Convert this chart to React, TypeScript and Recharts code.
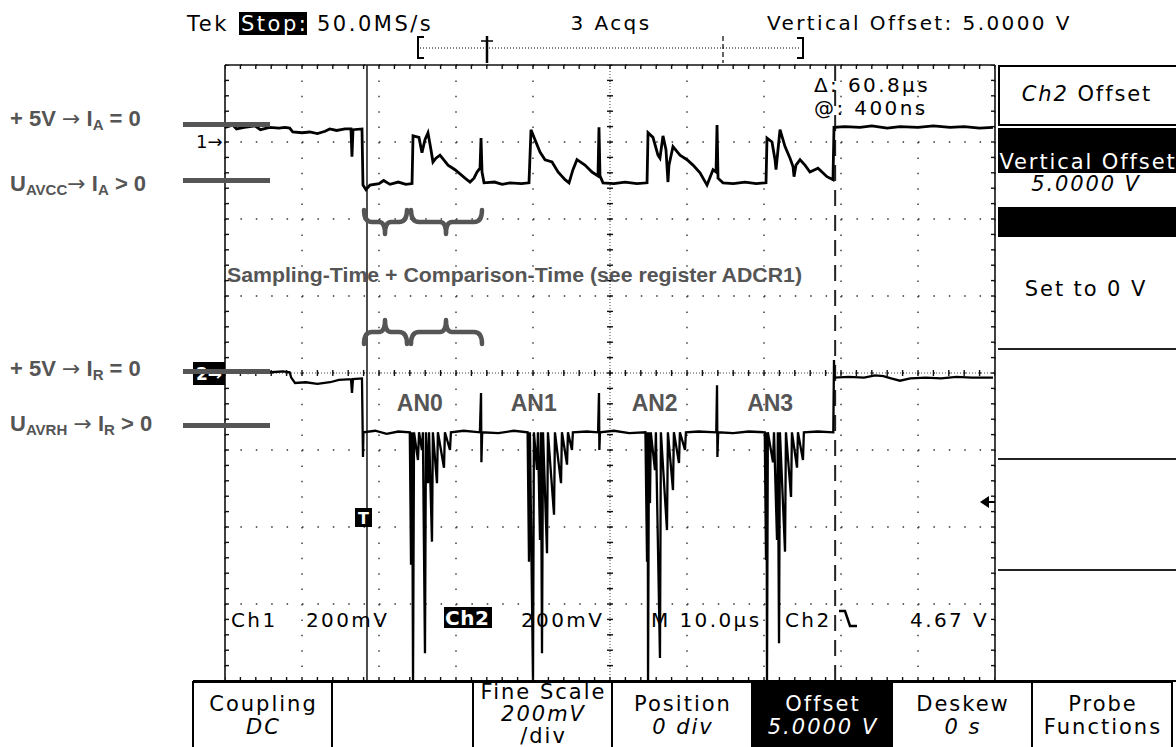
import React from "react";
import { ComposedChart, Line, Scatter, XAxis, YAxis, CartesianGrid, ReferenceLine } from "recharts";

// time in µs from the left screen edge (10 µs/div), level in screen divisions (0 = centre line)
const ch1Trace: [number, number][] = [
  [0, 3.19], [1.0, 3.22], [1.5, 3.17], [2.5, 3.19], [3.9, 3.21], [4.6, 3.16], [5.8, 3.19], [7.0, 3.18],
  [7.8, 3.19], [8.4, 3.18], [8.8, 3.13], [10.0, 3.12], [11.0, 3.13], [12.0, 3.11], [13.0, 3.14], [13.6, 3.17],
  [14.5, 3.15], [15.6, 3.17], [16.36, 3.17], [16.49, 2.81], [16.62, 3.16], [17.79, 3.17], [17.92, 2.44],
  [18.31, 2.38], [18.83, 2.44], [20.0, 2.46], [20.6, 2.5], [21.43, 2.45], [22.5, 2.48], [23.5, 2.45], [24.29, 2.46],
  [24.42, 3.08], [25.19, 3.06], [25.58, 2.86], [25.97, 3.03], [26.36, 3.12], [26.75, 2.9], [27.01, 2.74],
  [27.4, 2.79], [27.92, 2.83], [28.96, 2.7], [29.87, 2.64], [31.17, 2.53], [31.82, 2.48], [32.34, 2.53],
  [32.73, 2.61], [33.12, 2.66], [33.25, 3.05], [33.38, 2.61], [33.64, 2.47], [35.0, 2.48], [36.0, 2.45],
  [37.01, 2.47], [38.5, 2.46], [39.48, 2.47], [39.74, 3.16], [40.26, 3.03], [40.91, 2.87], [41.56, 2.77],
  [42.47, 2.74], [43.25, 2.61], [44.16, 2.51], [44.68, 2.47], [45.19, 2.64], [45.71, 2.77], [46.75, 2.7],
  [47.66, 2.61], [48.44, 2.56], [48.57, 3.19], [48.7, 2.56], [49.09, 2.47], [50.5, 2.46], [51.95, 2.48],
  [53.5, 2.46], [54.81, 2.47], [54.94, 3.12], [55.58, 3.06], [56.23, 2.83], [56.49, 2.79], [56.88, 3.08],
  [57.27, 2.9], [57.53, 2.48], [57.66, 2.7], [58.18, 2.94], [59.09, 2.83], [60.0, 2.77], [60.78, 2.7],
  [61.69, 2.6], [62.6, 2.44], [63.38, 2.64], [63.77, 2.61], [63.9, 3.22], [64.03, 2.53], [64.68, 2.47],
  [66.0, 2.46], [67.53, 2.48], [69.0, 2.46], [70.26, 2.47], [70.39, 3.05], [71.04, 3.0], [71.43, 2.77],
  [71.56, 2.64], [71.82, 2.9], [72.08, 3.16], [72.73, 2.94], [73.38, 2.79], [73.77, 2.68], [73.9, 2.55],
  [74.16, 2.7], [74.68, 2.77], [75.32, 2.7], [75.97, 2.61], [77.01, 2.66], [78.18, 2.55], [78.96, 2.51],
  [79.09, 3.19], [80.5, 3.2], [82.47, 3.19], [84.0, 3.21], [86.0, 3.18], [87.66, 3.2], [90.0, 3.19],
  [92.0, 3.21], [94.16, 3.19], [96.0, 3.2], [98.0, 3.18], [99.74, 3.19],
];

const ch2Trace: [number, number][] = [
  [0, 0.01], [1.5, 0.03], [3, 0.0], [4.5, 0.02], [6, 0.01], [7.5, 0.02], [8.4, 0.01], [8.6, -0.06],
  [9.09, -0.13], [10.5, -0.12], [12, -0.14], [13.64, -0.12], [14.8, -0.09], [16.36, -0.08], [16.49, -0.26],
  [16.62, -0.08], [17.79, -0.07], [17.92, -1.09], [17.98, -0.77], [19.5, -0.75], [21, -0.79], [22.5, -0.76],
  [24.0, -0.77],
  // AN0
  [24.16, -2.49], [24.3, -0.77], [24.42, -4.0], [24.55, -0.77], [25.06, -1.13], [25.2, -0.77], [25.58, -1.0],
  [25.7, -0.77], [25.97, -3.64], [26.1, -0.77], [26.36, -1.43], [26.5, -0.77], [26.88, -2.19], [27.0, -0.77],
  [27.53, -1.43], [27.65, -0.77], [28.44, -1.23], [28.56, -0.77], [29.22, -1.0], [29.34, -0.77], [31, -0.75],
  [33.1, -0.77], [33.25, -0.26], [33.3, -1.16], [33.4, -0.77], [35.5, -0.78], [37.5, -0.75], [39.3, -0.77],
  // AN1
  [39.48, -2.45], [39.6, -0.77], [40.0, -4.0], [40.12, -0.77], [40.52, -1.26], [40.64, -0.77], [40.91, -2.17],
  [41.03, -0.77], [41.17, -3.64], [41.3, -0.77], [41.82, -2.34], [41.94, -0.77], [42.73, -1.84], [42.85, -0.77],
  [43.64, -1.43], [43.76, -0.77], [44.42, -1.19], [44.54, -0.77], [45.06, -1.0], [45.18, -0.77], [47, -0.76],
  [48.45, -0.77], [48.57, -0.26], [48.62, -1.0], [48.7, -0.77], [50.5, -0.75], [52.5, -0.78], [54.6, -0.77],
  // AN2
  [54.81, -2.45], [54.9, -0.77], [54.94, -4.0], [55.06, -0.77], [55.19, -1.69], [55.3, -0.77], [55.84, -1.26],
  [55.96, -0.77], [56.49, -3.7], [56.61, -0.77], [57.4, -2.04], [57.52, -0.77], [58.18, -1.52], [58.3, -0.77],
  [58.96, -1.17], [59.08, -0.77], [59.74, -1.0], [59.86, -0.77], [61.5, -0.76], [63.8, -0.77], [63.9, -0.16],
  [63.95, -1.09], [64.05, -0.77], [66, -0.78], [68, -0.76], [70.1, -0.77],
  // AN3
  [70.26, -2.43], [70.33, -0.77], [70.39, -4.0], [70.5, -0.77], [71.17, -1.16], [71.3, -0.77], [71.69, -2.17],
  [71.8, -0.77], [71.95, -3.51], [72.07, -0.77], [72.73, -2.32], [72.85, -0.77], [73.51, -1.61], [73.63, -0.77],
  [74.29, -1.23], [74.41, -0.77], [75.06, -1.13], [75.18, -0.77], [77, -0.76], [79.0, -0.77],
  [79.09, 0.17], [79.15, -0.06], [81, -0.05], [83, -0.06], [84.42, -0.03], [85.5, -0.04], [86.5, -0.07],
  [87.66, -0.1], [89, -0.07], [91, -0.06], [93, -0.07], [95, -0.05], [97, -0.06], [99.74, -0.06],
];

const xDivTicks = [0, 10, 20, 30, 40, 50, 60, 70, 80, 90, 100];
const yDivTicks = [-4, -3, -2, -1, 0, 1, 2, 3, 4];
const cursorTimes = [18.44, 79.24];
const convLabels = ["AN0", "AN1", "AN2", "AN3"];
const convCentres = [25.3, 40.1, 55.8, 70.8];

const bottomMenu = [
  ["Coupling", "DC"],
  ["", ""],
  ["Fine Scale", "200mV", "/div"],
  ["Position", "0 div"],
  ["Offset", "5.0000 V"],
  ["Deskew", "0 s"],
  ["Probe", "Functions"],
];

const W = 1176;
const H = 747;
const PLOT = { left: 225, top: 65, right: 995, bottom: 681 };
const TEK = "'DejaVu Sans', sans-serif";
const NOTE = "'Liberation Sans', Arial, sans-serif";
const GREY = "#555";

const ch1Data = ch1Trace.map(([t, v]) => ({ t, v }));
const ch2Data = ch2Trace.map(([t, v]) => ({ t, v }));

// minor graticule marks, 5 per division
const minorT = Array.from({ length: 51 }, (_, i) => i * 2);
const minorV = Array.from({ length: 41 }, (_, i) => -4 + i * 0.2);
const gridTicks = [
  ...minorT.map((t) => ({ t, v: 4, kind: "top" })),
  ...minorT.map((t) => ({ t, v: -4, kind: "bottom" })),
  ...minorT.map((t) => ({ t, v: 0, kind: "ch" })),
  ...minorV.map((v) => ({ t: 0, v, kind: "left" })),
  ...minorV.map((v) => ({ t: 100, v, kind: "right" })),
  ...minorV.map((v) => ({ t: 50, v, kind: "cv" })),
];

function TickMark(props: any) {
  const { cx, cy, payload } = props;
  if (cx == null || cy == null) return <g />;
  const k = payload.kind;
  let d = "";
  if (k === "top") d = `M${cx},${cy}V${cy + 4}`;
  else if (k === "bottom") d = `M${cx},${cy}V${cy - 4}`;
  else if (k === "left") d = `M${cx},${cy}H${cx + 4}`;
  else if (k === "right") d = `M${cx},${cy}H${cx - 4}`;
  else if (k === "ch") d = `M${cx},${cy - 3}V${cy + 3}`;
  else d = `M${cx - 3},${cy}H${cx + 3}`;
  return <path d={d} stroke="#111" strokeWidth={1.4} fill="none" />;
}

function Brace({ x1, x2, tip, y, dir }: { x1: number; x2: number; tip: number; y: number; dir: number }) {
  // dir = 1 tip points down, -1 tip points up
  const d = `M${x1},${y - 12 * dir} Q${x1},${y} ${x1 + 8},${y} H${tip - 6} Q${tip},${y} ${tip},${y + 12 * dir} Q${tip},${y} ${tip + 6},${y} H${x2 - 8} Q${x2},${y} ${x2},${y - 12 * dir}`;
  return <path d={d} stroke={GREY} strokeWidth={4.5} fill="none" strokeLinecap="round" strokeLinejoin="round" />;
}

const ARROW = { fontFamily: "'DejaVu Sans', sans-serif", fontWeight: "normal" as const };

export default function App() {
  const boxEdges = [193, 332, 473, 612, 752, 892, 1032, 1172];
  return (
    <div style={{ position: "absolute", left: 0, top: 0, width: W, height: H, background: "#fff", overflow: "hidden" }}>
      <div style={{ position: "absolute", left: 0, top: 0 }}>
        <ComposedChart
          width={W}
          height={H}
          margin={{ top: PLOT.top, right: W - PLOT.right, bottom: H - PLOT.bottom, left: PLOT.left }}
        >
          <XAxis type="number" dataKey="t" domain={[0, 100]} ticks={xDivTicks} hide allowDataOverflow />
          <YAxis type="number" dataKey="v" domain={[-4, 4]} ticks={yDivTicks} hide allowDataOverflow />
          <CartesianGrid
            stroke="#333"
            strokeWidth={1.4}
            strokeDasharray="1.5 13.9"
            horizontalValues={yDivTicks}
            verticalValues={xDivTicks}
          />
          <ReferenceLine y={0} stroke="#444" strokeDasharray="1 2" />
          <ReferenceLine x={50} stroke="#444" strokeDasharray="1 2" />
          <ReferenceLine x={0} stroke="#111" strokeWidth={1.6} />
          <ReferenceLine x={100} stroke="#111" strokeWidth={1.6} />
          <ReferenceLine y={4} stroke="#111" strokeWidth={1.6} />
          <ReferenceLine y={-4} stroke="#111" strokeWidth={1.6} />
          <Scatter data={gridTicks} dataKey="v" shape={TickMark} isAnimationActive={false} />
          <ReferenceLine x={cursorTimes[0]} stroke="#222" strokeWidth={1.6} />
          <ReferenceLine x={cursorTimes[1]} stroke="#222" strokeWidth={2} strokeDasharray="16 9" />
          <Line data={ch1Data} dataKey="v" type="linear" stroke="#000" strokeWidth={2.8} dot={false} isAnimationActive={false} />
          <Line data={ch2Data} dataKey="v" type="linear" stroke="#000" strokeWidth={2.3} dot={false} isAnimationActive={false} />
        </ComposedChart>
      </div>

      <svg width={W} height={H} style={{ position: "absolute", left: 0, top: 0, pointerEvents: "none" }}>
        {/* header */}
        <g fontFamily={TEK} fontSize={21} fill="#000" letterSpacing={2.5}>
          <text x={187} y={31}>Tek</text>
          <rect x={239} y={12} width={68} height={23} fill="#000" />
          <text x={241} y={31} fill="#fff">Stop:</text>
          <text x={317} y={31}>50.0MS/s</text>
        </g>
        <g fontFamily={TEK} fontSize={20} fill="#000" letterSpacing={2.4}>
          <text x={611} y={30} textAnchor="middle">3 Acqs</text>
          <text x={767} y={30}>Vertical Offset: 5.0000 V</text>
        </g>
        {/* record bracket */}
        <path d="M424,37 H418 V58 H424" stroke="#000" strokeWidth={2} fill="none" />
        <path d="M420,48 H801" stroke="#000" strokeWidth={1} strokeDasharray="1 2" />
        <path d="M487,36 V63" stroke="#000" strokeWidth={2.5} />
        <path d="M481,41 H493" stroke="#000" strokeWidth={1.5} />
        <path d="M723,36 V63" stroke="#000" strokeWidth={1.2} strokeDasharray="5 3" />
        <path d="M797,38 H803 V58 H797" stroke="#000" strokeWidth={2} fill="none" />

        {/* cursor readout */}
        <g fontFamily={TEK} fontSize={20} fill="#000" letterSpacing={2.4}>
          <text x={814} y={92}>Δ: 60.8µs</text>
          <text x={814} y={115}>@: 400ns</text>
        </g>

        {/* channel markers */}
        <text x={196} y={148} fontFamily={TEK} fontSize={18} fill="#000">1→</text>
        <rect x={193} y={362} width={32} height={23} fill="#000" />
        <text x={196} y={380} fontFamily={TEK} fontSize={17} fontWeight="bold" fill="#fff">2→</text>
        <rect x={355} y={508} width={17} height={19} fill="#000" />
        <text x={363.5} y={524} textAnchor="middle" fontFamily={TEK} fontSize={16} fontWeight="bold" fill="#fff">T</text>
        <path d="M980,502 L989,496 L989,508 Z" fill="#000" />
        <path d="M988,502 H995" stroke="#000" strokeWidth={2} />

        {/* annotation bars */}
        {[124.5, 180.5, 371.5, 425.5].map((y) => (
          <rect key={y} x={183} y={y - 2.5} width={87} height={5} fill={GREY} />
        ))}
        <g fontFamily={NOTE} fontWeight="bold" fill={GREY} fontSize={22}>
          <text x={10} y={126}>+ 5V <tspan {...ARROW}>→</tspan> I<tspan fontSize={15} dy={4}>A</tspan><tspan dy={-4}> = 0</tspan></text>
          <text x={10} y={191}>U<tspan fontSize={15} dy={4}>AVCC</tspan><tspan dy={-4} {...ARROW}>→</tspan> I<tspan fontSize={15} dy={4}>A</tspan><tspan dy={-4}> &gt; 0</tspan></text>
          <text x={10} y={376}>+ 5V <tspan {...ARROW}>→</tspan> I<tspan fontSize={15} dy={4}>R</tspan><tspan dy={-4}> = 0</tspan></text>
          <text x={10} y={431}>U<tspan fontSize={15} dy={4}>AVRH</tspan><tspan dy={-4}> </tspan><tspan {...ARROW}>→</tspan> I<tspan fontSize={15} dy={4}>R</tspan><tspan dy={-4}> &gt; 0</tspan></text>
        </g>

        {/* braces + note */}
        <Brace x1={364} x2={407} tip={385} y={222} dir={1} />
        <Brace x1={411} x2={482} tip={446} y={222} dir={1} />
        <Brace x1={364} x2={407} tip={385} y={332} dir={-1} />
        <Brace x1={411} x2={482} tip={446} y={332} dir={-1} />
        <text x={227} y={282} fontFamily={NOTE} fontWeight="bold" fontSize={20} fill={GREY} textLength={575} lengthAdjust="spacingAndGlyphs">
          Sampling-Time + Comparison-Time (see register ADCR1)
        </text>
        <g fontFamily={NOTE} fontWeight="bold" fontSize={23} fill={GREY} textAnchor="middle">
          {convLabels.map((l, i) => (
            <text key={l} x={PLOT.left + convCentres[i] * 7.7} y={411}>{l}</text>
          ))}
        </g>

        {/* scale readouts */}
        <g fontFamily={TEK} fontSize={20} fill="#000" letterSpacing={2.4}>
          <text x={231} y={627}>Ch1</text>
          <text x={306} y={627}>200mV</text>
          <rect x={444} y={607} width={48} height={21} fill="#000" />
          <text x={445} y={625} fill="#fff" fontWeight="bold" letterSpacing={0.5}>Ch2</text>
          <text x={521} y={627}>200mV</text>
          <text x={651} y={627}>M 10.0µs</text>
          <text x={785} y={627}>Ch2</text>
          <text x={989} y={627} textAnchor="end">4.67 V</text>
        </g>
        <path d="M839,611 H845 L850,626 H857" stroke="#000" strokeWidth={2.5} fill="none" />

        {/* side menu */}
        <rect x={999} y={66} width={190} height={59} fill="#fff" stroke="#000" strokeWidth={2} />
        <rect x={998} y={128} width={180} height={45} fill="#000" />
        <rect x={998} y={207} width={180} height={30} fill="#000" />
        {[349, 459, 570].map((y) => (
          <path key={y} d={`M998,${y} H1176`} stroke="#222" strokeWidth={2} />
        ))}
        <g fontFamily={TEK} fontSize={21} textAnchor="middle" letterSpacing={1.9}>
          <text x={1087} y={101} fill="#000"><tspan fontStyle="italic">Ch2</tspan> Offset</text>
          <text x={1088} y={169} fill="#fff">Vertical Offset</text>
          <text x={1086} y={191} fill="#000" fontStyle="italic">5.0000 V</text>
          <text x={1086} y={296} fill="#000">Set to 0 V</text>
        </g>

        {/* bottom menu */}
        <path d={`M193,681 H1176`} stroke="#000" strokeWidth={2} />
        {bottomMenu.map((m, i) => {
          const x0 = boxEdges[i];
          const x1 = boxEdges[i + 1];
          const cx = (x0 + x1) / 2 + 1;
          const dark = i === 4;
          const col = dark ? "#fff" : "#000";
          return (
            <g key={i} fontFamily={TEK} fontSize={21} textAnchor="middle" fill={col} letterSpacing={2}>
              <rect x={x0} y={682} width={x1 - x0} height={80} fill={dark ? "#000" : "#fff"} stroke="#000" strokeWidth={2} />
              {m.length === 3 ? (
                <>
                  <text x={cx} y={699}>{m[0]}</text>
                  <text x={cx} y={721} fontStyle="italic">{m[1]}</text>
                  <text x={cx} y={743}>{m[2]}</text>
                </>
              ) : (
                <>
                  <text x={cx} y={711}>{m[0]}</text>
                  <text x={cx} y={734} fontStyle={i === 6 ? "normal" : "italic"}>{m[1]}</text>
                </>
              )}
            </g>
          );
        })}
      </svg>
    </div>
  );
}
